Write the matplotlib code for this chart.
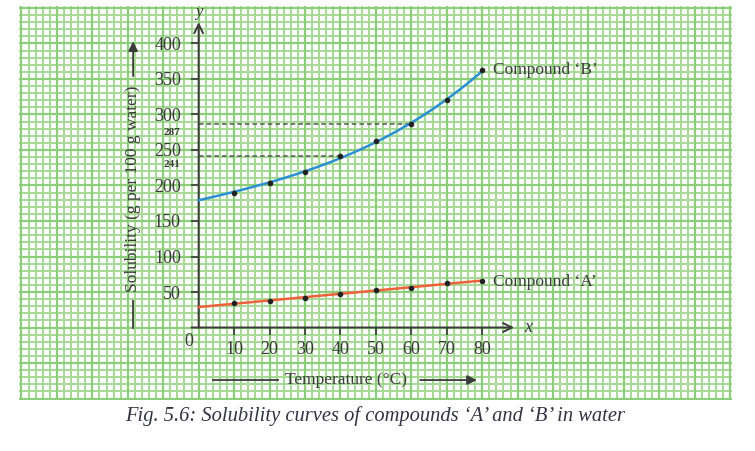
import numpy as np
import matplotlib
matplotlib.use('Agg')
import matplotlib.pyplot as plt
from matplotlib.collections import LineCollection

# data
temps = [0, 10, 20, 30, 40, 50, 60, 70, 80]
sol_a = [28, 35, 38, 42, 47, 53, 56, 62, 66]
sol_b = [180, 190, 204, 219, 241, 262, 287, 320, 362]
x_ticks = [10, 20, 30, 40, 50, 60, 70, 80]
y_ticks = [50, 100, 150, 200, 250, 300, 350, 400]
marked = [(40, 241), (60, 287)]

plt.rcParams['font.family'] = ['Liberation Serif', 'DejaVu Serif']
ink = '#3a3a3a'

fig = plt.figure(figsize=(7.55, 4.51), dpi=100)
ax = fig.add_axes([19/755, 51/451, 713/755, 394/451])
ax.set_xlim(-50.7, 150.5)
ax.set_ylim(-102.1, 452.8)

# graph paper
xs = np.arange(-50, 151, 2)
ys = np.arange(-100, 451, 10)
minor = [[(x, -102.1), (x, 452.8)] for x in xs if x % 10] + \
        [[(-50.7, y), (150.5, y)] for y in ys if y % 50]
major = [[(x, -102.1), (x, 452.8)] for x in xs if x % 10 == 0] + \
        [[(-50.7, y), (150.5, y)] for y in ys if y % 50 == 0]
ax.add_collection(LineCollection(minor, colors='#a6d995', linewidths=1.4, zorder=0))
ax.add_collection(LineCollection(major, colors='#8ccd7a', linewidths=1.6, zorder=0))
for s in ax.spines.values():
    s.set_color('none')
ax.spines['left'].set_position(('data', 0))
ax.spines['bottom'].set_position(('data', 0))

# axes with arrows
ax.annotate('', xy=(0, 430), xytext=(0, 0),
            arrowprops=dict(arrowstyle='->', lw=1.4, color=ink, mutation_scale=16,
                            shrinkA=0, shrinkB=0))
ax.annotate('', xy=(89, 0), xytext=(-2, 0),
            arrowprops=dict(arrowstyle='->', lw=1.4, color=ink, mutation_scale=16,
                            shrinkA=0, shrinkB=0))
ax.text(0, 445, 'y', style='italic', fontsize=12, color=ink, ha='center', va='center')
ax.text(93, 0, 'x', style='italic', fontsize=13, color=ink, ha='center', va='center')
ax.text(-1.5, -8, '0', fontsize=13, color=ink, ha='right', va='top')

ax.set_xticks(x_ticks)
ax.set_yticks(y_ticks)
ax.tick_params(axis='both', colors=ink, labelsize=13, width=1.2)
ax.tick_params(axis='x', direction='out', length=5, pad=5)
ax.tick_params(axis='y', direction='out', length=5.8, pad=7)

# curves
tt = np.linspace(0, 80, 200)
ax.plot(tt, np.polyval(np.polyfit(temps, sol_b, 3), tt), color='#2b8fd3', lw=1.8, zorder=3)
ax.plot(tt, np.polyval(np.polyfit(temps, sol_a, 1), tt), color='#f0603a', lw=1.8, zorder=3)
ax.plot(temps[1:], sol_b[1:], 'o', color='#222222', ms=3, zorder=4)
ax.plot(temps[1:], sol_a[1:], 'o', color='#222222', ms=3, zorder=4)

for t, v in marked:
    ax.plot([0, t], [v, v], ls=(0, (3, 2)), color='#555555', lw=1.1, zorder=2)
    ax.text(-5.2, v - 12, str(v), fontsize=8, fontweight='bold', color=ink,
            ha='right', va='center')

ax.text(83, sol_b[-1], 'Compound ‘B’', fontsize=12.5, color=ink, ha='left', va='center')
ax.text(83, sol_a[-1] - 2, 'Compound ‘A’', fontsize=12.5, color=ink, ha='left', va='center')

# axis titles with arrows
ax.text(-18.5, 196, 'Solubility (g per 100 g water)', rotation=90, fontsize=12.5,
        color=ink, ha='center', va='center')
ax.plot([-18.5, -18.5], [0, 38], color=ink, lw=1.3)
ax.annotate('', xy=(-18.5, 403), xytext=(-18.5, 354),
            arrowprops=dict(arrowstyle='-|>', lw=1.3, color=ink, mutation_scale=14,
                            shrinkA=0, shrinkB=0))
ax.text(41.6, -74, 'Temperature (°C)', fontsize=12.5, color=ink, ha='center', va='center')
ax.plot([4.1, 22.4], [-74, -74], color=ink, lw=1.3)
ax.annotate('', xy=(78.5, -74), xytext=(62.5, -74),
            arrowprops=dict(arrowstyle='-|>', lw=1.3, color=ink, mutation_scale=14,
                            shrinkA=0, shrinkB=0))

fig.text(375/755, 1 - 416/451,
         'Fig. 5.6: Solubility curves of compounds ‘A’ and ‘B’ in water',
         style='italic', fontsize=14.8, color='#333344', ha='center', va='center')

fig.savefig('out.png', dpi=100)
